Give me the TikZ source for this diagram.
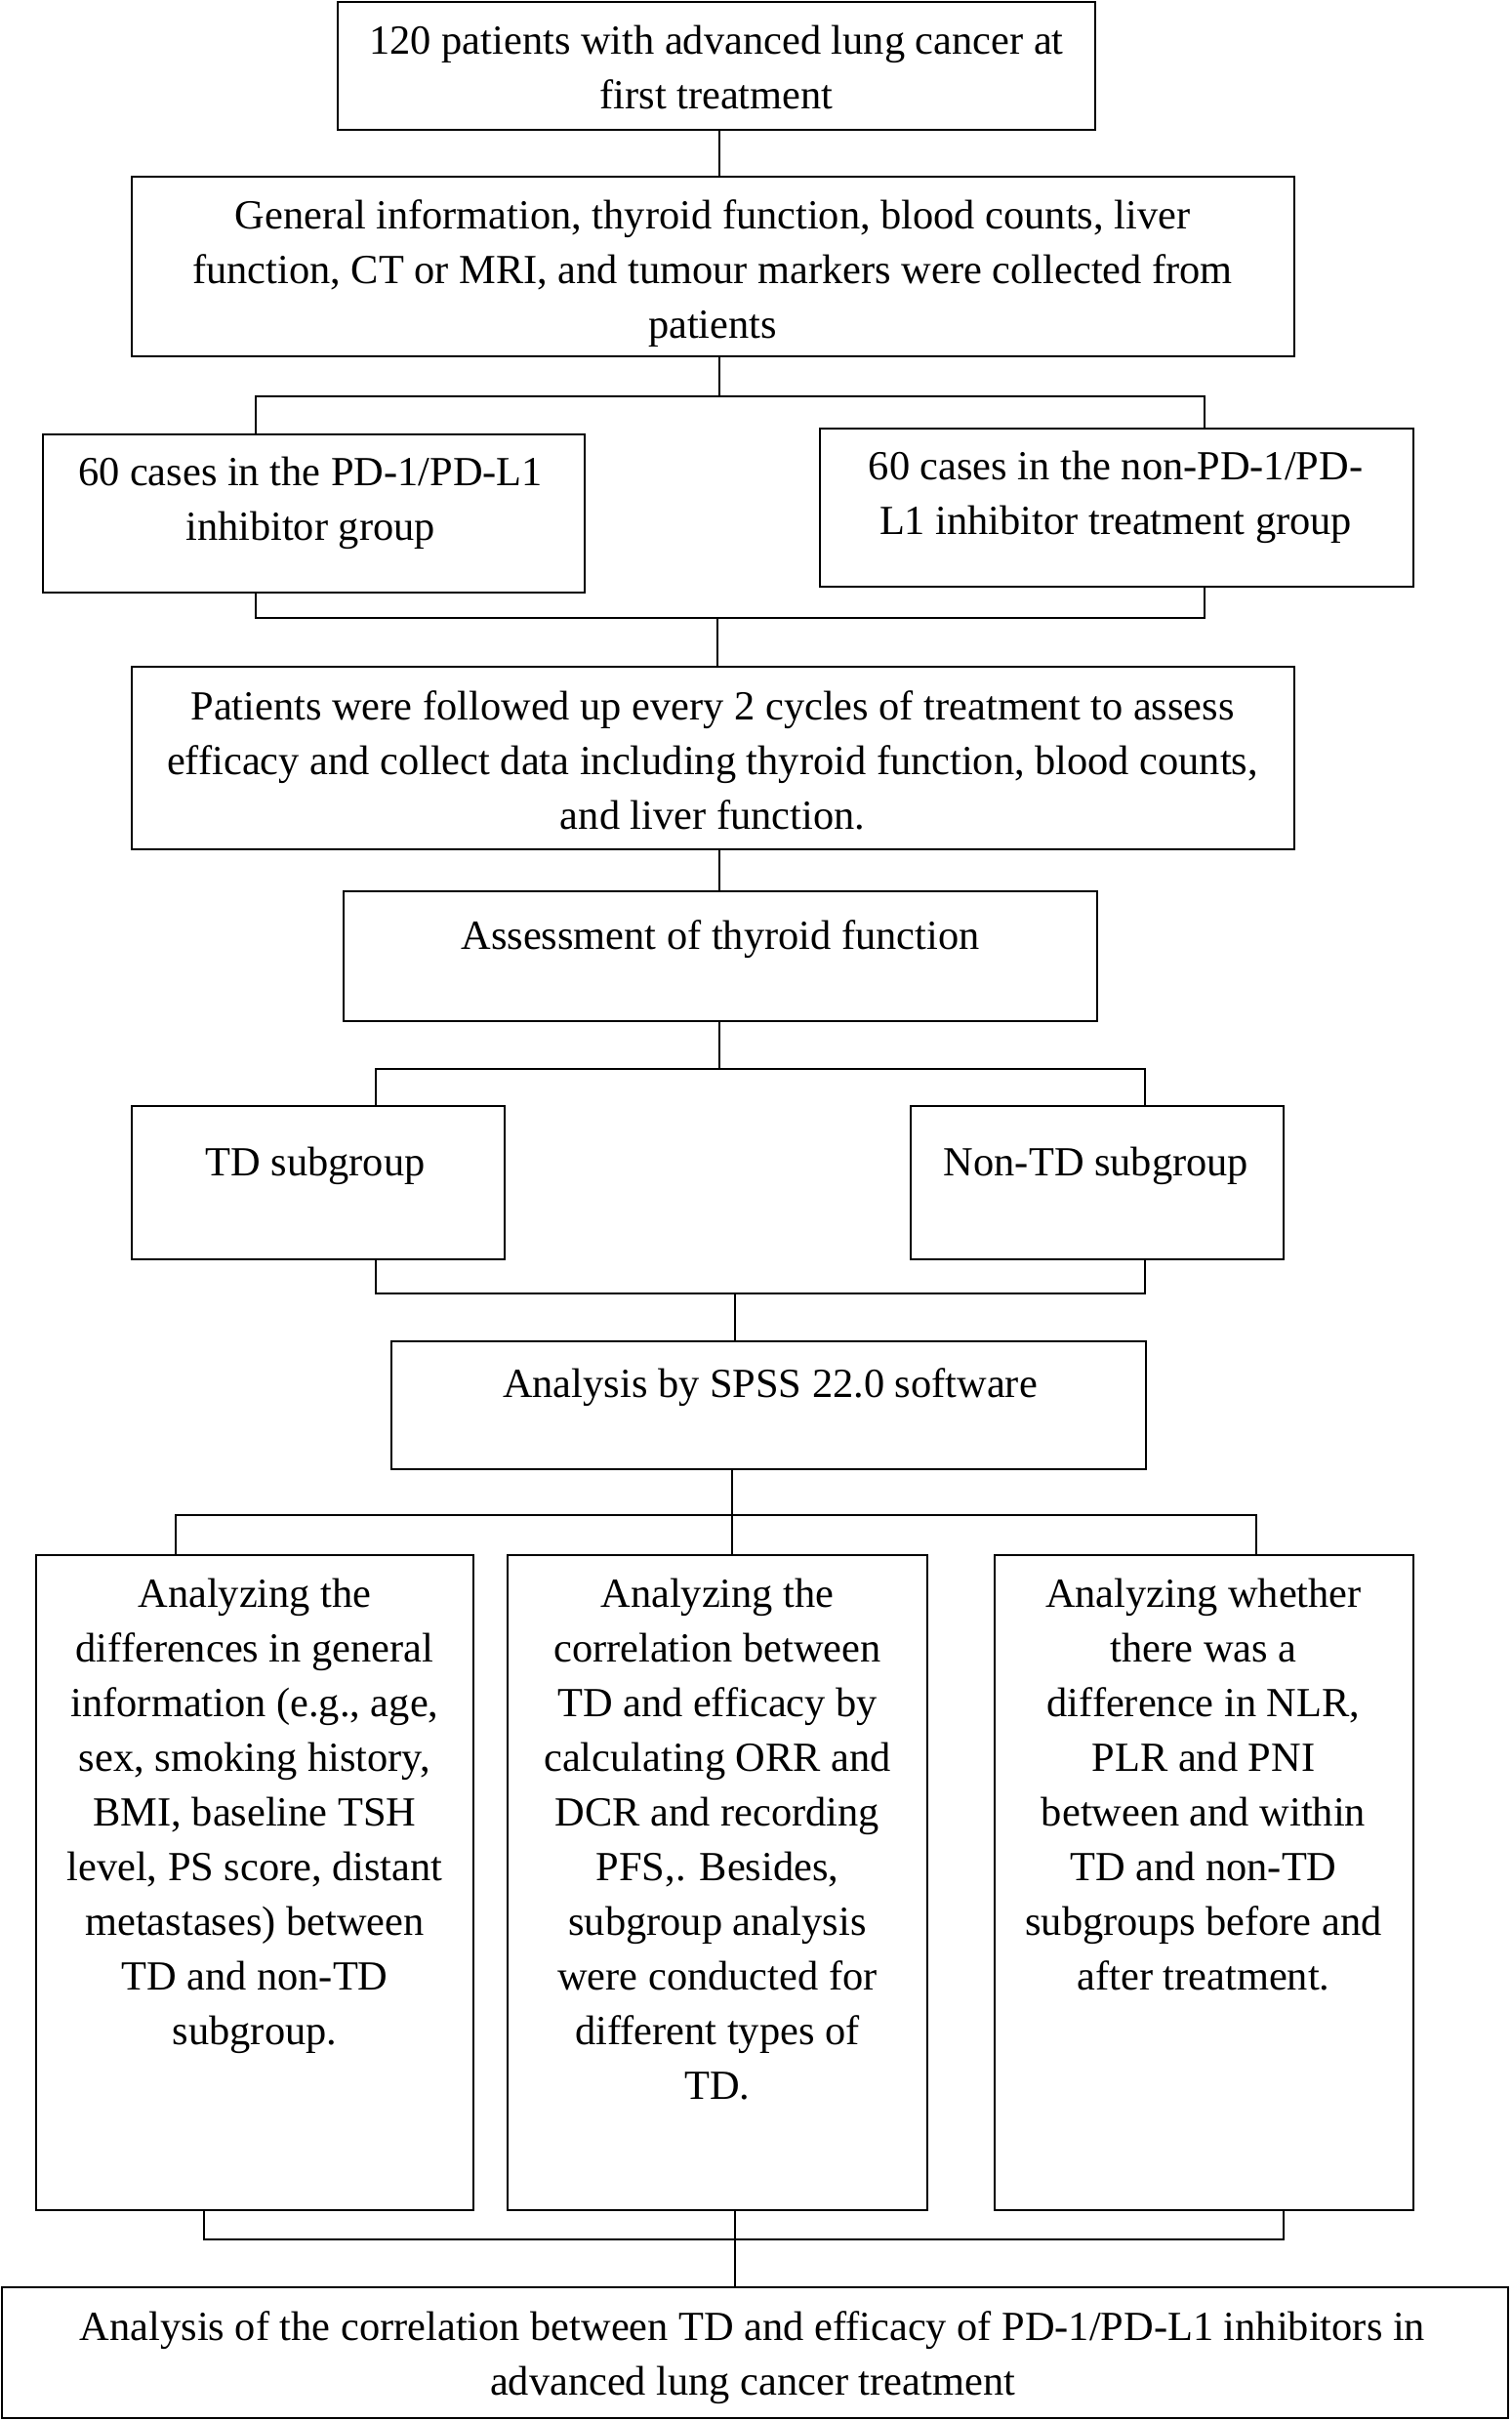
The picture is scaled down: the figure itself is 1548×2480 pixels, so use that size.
\documentclass[tikz,border=0pt]{standalone}
\usepackage{fontspec}
\setmainfont{Liberation Serif}
\begin{document}
\begin{tikzpicture}[x=0.5pt,y=-0.5pt,
  box/.style={draw=black,line width=1.4pt,rectangle,inner sep=0pt},
  txt/.style={inner sep=0pt,align=center,anchor=north,font=\fontsize{21.2}{28}\selectfont},
  conn/.style={draw=black,line width=1.2pt}]
\useasboundingbox[fill=white] (0,0) rectangle (1548,2480);
% boxes
\node[box,minimum width=388pt,minimum height=65.5pt] (b1) at (734,67.5) {};
\node[box,minimum width=595.5pt,minimum height=92pt] (b2) at (730.5,273) {};
\node[box,minimum width=277.5pt,minimum height=81pt] (b3) at (321.5,526) {};
\node[box,minimum width=304pt,minimum height=81pt] (b4) at (1144,520) {};
\node[box,minimum width=595.5pt,minimum height=93.5pt] (b5) at (730.5,776.5) {};
\node[box,minimum width=386pt,minimum height=66.5pt] (b6) at (738,979.5) {};
\node[box,minimum width=191pt,minimum height=78.5pt] (b7) at (326,1211.5) {};
\node[box,minimum width=191pt,minimum height=78.5pt] (b8) at (1124,1211.5) {};
\node[box,minimum width=386.5pt,minimum height=65.5pt] (b9) at (787.5,1439.5) {};
\node[box,minimum width=224pt,minimum height=335.5pt] (b10) at (261,1928.5) {};
\node[box,minimum width=215pt,minimum height=335.5pt] (b11) at (735,1928.5) {};
\node[box,minimum width=214.5pt,minimum height=335.5pt] (b12) at (1233.5,1928.5) {};
\node[box,minimum width=771.5pt,minimum height=67pt] (b13) at (773.5,2410) {};
% texts
\node[txt] (t1) at (734,26) {120 patients with advanced lung cancer at\\first treatment};
\node[txt] (t2) at (730,204) {General information, thyroid function, blood counts, liver\\function, CT or MRI, and tumour markers were collected from\\patients};
\node[txt] (t3) at (318,468) {60 cases in the PD-1/PD-L1\\inhibitor group};
\node[txt] (t4) at (1143,462) {60 cases in the non-PD-1/PD-\\L1 inhibitor treatment group};
\node[txt] (t5) at (730,707) {Patients were followed up every 2 cycles of treatment to assess\\efficacy and collect data including thyroid function, blood counts,\\and liver function.};
\node[txt] (t6) at (738,942) {Assessment of thyroid function};
\node[txt] (t7) at (323,1175) {TD subgroup};
\node[txt] (t8) at (1123,1175) {Non-TD subgroup};
\node[txt] (t9) at (789,1401) {Analysis by SPSS 22.0 software};
\node[txt] (t10) at (261,1617) {Analyzing the\\differences in general\\information (e.g., age,\\sex, smoking history,\\BMI, baseline TSH\\level, PS score, distant\\metastases) between\\TD and non-TD\\subgroup.};
\node[txt] (t11) at (735,1617) {Analyzing the\\correlation between\\TD and efficacy by\\calculating ORR and\\DCR and recording\\PFS,. Besides,\\subgroup analysis\\were conducted for\\different types of\\TD.};
\node[txt] (t12) at (1233,1617) {Analyzing whether\\there was a\\difference in NLR,\\PLR and PNI\\between and within\\TD and non-TD\\subgroups before and\\after treatment.};
\node[txt] (t13) at (771,2367) {Analysis of the correlation between TD and efficacy of PD-1/PD-L1 inhibitors in\\advanced lung cancer treatment};
% junction coordinates
\coordinate (j1) at (737,406);
\coordinate (t1L) at (262,406);
\coordinate (t1R) at (1234,406);
\coordinate (u1L) at (262,633);
\coordinate (u1R) at (1234,633);
\coordinate (u1) at (735,633);
\coordinate (j2) at (737,1095);
\coordinate (t2L) at (385,1095);
\coordinate (t2R) at (1173,1095);
\coordinate (u2L) at (385,1325);
\coordinate (u2R) at (1173,1325);
\coordinate (u2) at (753,1325);
\coordinate (j3) at (750,1552);
\coordinate (t3L) at (180,1552);
\coordinate (t3R) at (1287,1552);
\coordinate (u3L) at (209,2294);
\coordinate (u3R) at (1315,2294);
\coordinate (j4) at (753,2294);
% connectors
\draw[conn] (b1.south -| j1) -- (b2.north -| j1);
\draw[conn] (b2.south -| j1) -- (j1);
\draw[conn] (b3.north -| t1L) -- (t1L) -- (t1R) -- (b4.north -| t1R);
\draw[conn] (b3.south -| u1L) -- (u1L) -- (u1R) -- (b4.south -| u1R);
\draw[conn] (u1) -- (b5.north -| u1);
\draw[conn] (b5.south -| j1) -- (b6.north -| j1);
\draw[conn] (b6.south -| j2) -- (j2);
\draw[conn] (b7.north -| t2L) -- (t2L) -- (t2R) -- (b8.north -| t2R);
\draw[conn] (b7.south -| u2L) -- (u2L) -- (u2R) -- (b8.south -| u2R);
\draw[conn] (u2) -- (b9.north -| u2);
\draw[conn] (b9.south -| j3) -- (b11.north -| j3);
\draw[conn] (b10.north -| t3L) -- (t3L) -- (t3R) -- (b12.north -| t3R);
\draw[conn] (b10.south -| u3L) -- (u3L) -- (u3R) -- (b12.south -| u3R);
\draw[conn] (b11.south -| j4) -- (b13.north -| j4);
\end{tikzpicture}
\end{document}
